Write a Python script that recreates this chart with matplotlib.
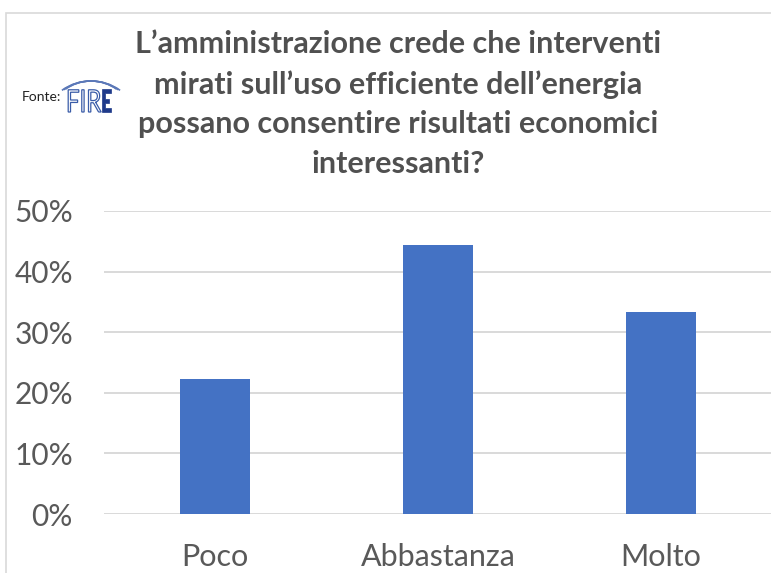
import matplotlib.pyplot as plt
from matplotlib.patches import Rectangle, Arc, PathPatch
from matplotlib.textpath import TextPath
from matplotlib.font_manager import FontProperties
from matplotlib.transforms import Affine2D
from matplotlib.ticker import PercentFormatter

categories = ['Poco', 'Abbastanza', 'Molto']
shares = [2 / 9, 4 / 9, 3 / 9]
yticks = [0, 0.1, 0.2, 0.3, 0.4, 0.5]
title = ("L\u2019amministrazione crede che interventi\n"
         "mirati sull\u2019uso efficiente dell\u2019energia\n"
         "possano consentire risultati economici\n"
         "interessanti?")

plt.rcParams['font.family'] = ['Lato', 'DejaVu Sans']
grey = '#595959'
W, H = 771, 573

fig = plt.figure(figsize=(W / 100, H / 100), dpi=100)

# outer chart frame
fig.patches.append(Rectangle((6 / W, -0.01), 1.0, 1 - 13 / H + 0.01,
                             transform=fig.transFigure, fill=False,
                             edgecolor='#d9d9d9', linewidth=1.2))

ax = fig.add_axes([103.5 / W, 59 / H, 669 / W, 303 / H])
ax.bar(range(len(categories)), shares, width=0.315, color='#4472c4', zorder=3)
ax.set_xlim(-0.5, len(categories) - 0.5)
ax.set_ylim(0, 0.5)
ax.set_yticks(yticks)
ax.yaxis.set_major_formatter(PercentFormatter(1.0, decimals=0))
ax.set_xticks(range(len(categories)))
ax.set_xticklabels(categories)
ax.grid(axis='y', color='#d9d9d9', linewidth=1.4, zorder=0)
ax.set_axisbelow(True)
for s in ax.spines.values():
    s.set_visible(False)
ax.tick_params(axis='both', length=0, labelcolor=grey)
ax.tick_params(axis='y', labelsize=21.5, pad=22)
ax.tick_params(axis='x', labelsize=22, pad=21)

fig.text(398 / W, 1 - 104 / H, title, ha='center', va='center',
         fontsize=22, fontweight='bold', color='#505050', linespacing=1.5)

# source note with a small logo
fig.text(22 / W, 1 - 97 / H, 'Fonte:', ha='left', va='center',
         fontsize=10, color='#222222')


def logo_text(s, x0, y0, sx, sy, weight, face, edge, lw):
    tp = TextPath((0, 0), s, size=1, prop=FontProperties(family='Lato', weight=weight))
    tr = Affine2D().scale(sx / W, sy / H).translate(x0 / W, 1 - y0 / H) + fig.transFigure
    fig.patches.append(PathPatch(tp, transform=tr, facecolor=face,
                                 edgecolor=edge, linewidth=lw))


logo_text('FIR', 66, 112, 24, 31, 'normal', 'white', '#3a5ca8', 0.9)
logo_text('E', 101, 112, 18, 31, 'heavy', '#1f3a8a', '#1f3a8a', 0.5)
for r in (44, 47, 50):
    fig.patches.append(Arc((91 / W, 1 - (81 + r) / H), 2 * r / W, 2 * r / H,
                           theta1=62, theta2=118, transform=fig.transFigure,
                           color='#5b78b8', linewidth=1.2))

fig.savefig('out.png', dpi=100)
